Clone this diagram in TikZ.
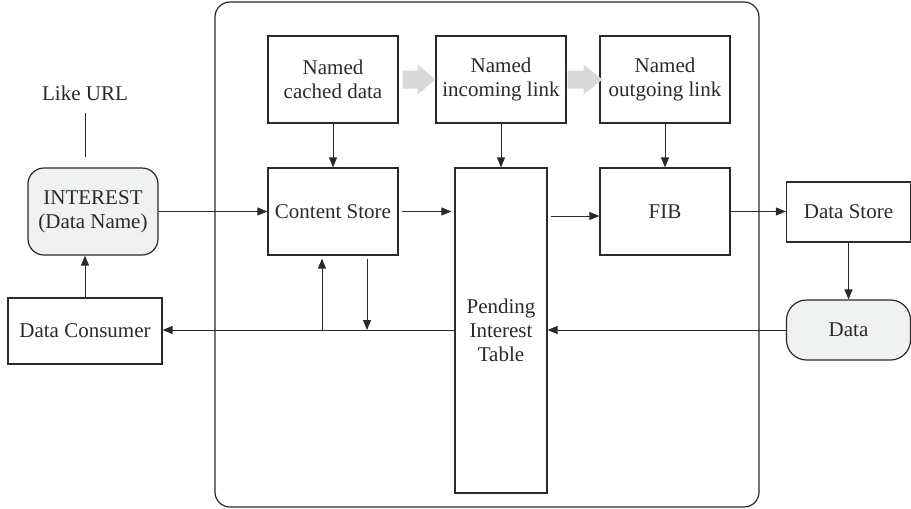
\documentclass[tikz,border=0pt]{standalone}
\usepackage{fontspec}
\setmainfont{Liberation Serif}
\usetikzlibrary{arrows.meta,calc}
\definecolor{lightfill}{HTML}{F0F1F1}
\definecolor{blockgray}{HTML}{D9D9D9}
\definecolor{ink}{HTML}{2A2A2A}
\begin{document}
\begin{tikzpicture}[x=1pt,y=-1pt,
  every node/.style={font=\fontsize{21}{24}\selectfont, text=ink},
  boxnode/.style={draw=ink, line width=1.2pt, align=center, inner sep=0pt},
  roundnode/.style={boxnode, fill=lightfill, rounded corners=16pt},
  conn/.style={draw=ink, line width=1pt},
  arr/.style={conn, -{Triangle[length=10pt,width=8pt]}}
]
\useasboundingbox (0,0) rectangle (911,509);
% frame
\draw[draw=ink, line width=1.2pt, rounded corners=15pt] (215,2) rectangle (759,507);
% nodes
\node[boxnode, minimum width=130pt, minimum height=87pt] (cached) at (333,79.5) {Named\\cached data};
\node[boxnode, minimum width=130pt, minimum height=87pt] (incoming) at (501,79.5) {Named\\incoming link};
\node[boxnode, minimum width=130pt, minimum height=87pt] (outgoing) at (665,79.5) {Named\\outgoing link};
\node[boxnode, minimum width=130pt, minimum height=87pt] (cs) at (333,211.5) {Content Store};
\node[boxnode, minimum width=92pt, minimum height=325pt] (pit) at (501,330.5) {Pending\\Interest\\Table};
\node[boxnode, minimum width=130pt, minimum height=87pt] (fib) at (665,211.5) {FIB};
\node[boxnode, minimum width=124pt, minimum height=60pt] (dstore) at (848.5,212) {Data Store};
\node[roundnode, rounded corners=20pt, minimum width=124pt, minimum height=60pt] (data) at (848.5,330) {Data};
\node[roundnode, minimum width=130pt, minimum height=87pt] (interest) at (93,211.5) {INTEREST\\(Data Name)};
\node[boxnode, minimum width=154pt, minimum height=66pt] (consumer) at (85,331) {Data Consumer};
\node (url) at (85,93) {Like URL};
% gray block arrows
\fill[blockgray] ($(cached.east)+(4,-9)$) -- ($(cached.east)+(19,-9)$) -- ($(cached.east)+(19,-15)$)
  -- ($(incoming.west)+(0,0)$) -- ($(cached.east)+(19,15)$) -- ($(cached.east)+(19,9)$) -- ($(cached.east)+(4,9)$) -- cycle;
\fill[blockgray] ($(incoming.east)+(1,-9)$) -- ($(incoming.east)+(17,-9)$) -- ($(incoming.east)+(17,-15)$)
  -- ($(outgoing.west)+(3,0)$) -- ($(incoming.east)+(17,15)$) -- ($(incoming.east)+(17,9)$) -- ($(incoming.east)+(1,9)$) -- cycle;
% connectors
\coordinate (urltop) at (url.center |- 0,113);
\coordinate (urlend) at ($(url.center |- interest.north)+(0,-10)$);
\draw[conn] (urltop) -- (urlend);
\draw[arr] (consumer.north) -- (consumer.north |- interest.south);
\draw[arr] (interest.east) -- (cs.west);
\draw[arr] (cached.south) -- (cs.north);
\draw[arr] (incoming.south) -- (pit.north);
\draw[arr] (outgoing.south) -- (fib.north);
\draw[arr] ($(cs.east)+(3,0)$) -- ($(pit.west |- cs.east)+(-3,0)$);
\draw[arr] ($(pit.east |- fib.west)+(3,4.5)$) -- ($(fib.west)+(0,4.5)$);
\draw[arr] (fib.east) -- (fib.east -| dstore.west);
\draw[arr] (dstore.south) -- (data.north);
\draw[arr] (data.west) -- (data.west -| pit.east);
\coordinate (busl) at (pit.west |- data.west);
\draw[arr] (busl) -- (busl -| consumer.east);
\coordinate (upfoot) at (322,330);
\draw[arr] (upfoot) -- ($(upfoot |- cs.south)+(0,3)$);
\coordinate (downfoot) at (367,330);
\draw[arr] ($(downfoot |- cs.south)+(0,3)$) -- (downfoot);
\end{tikzpicture}
\end{document}
